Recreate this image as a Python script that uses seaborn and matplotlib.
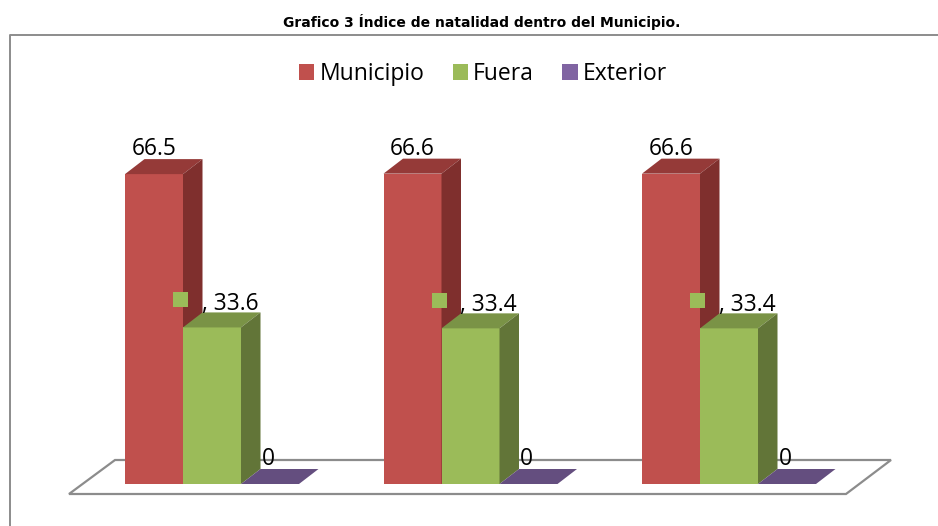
import matplotlib
matplotlib.use("Agg")
import matplotlib.pyplot as plt
import pandas as pd
import seaborn as sns
from matplotlib.lines import Line2D
from matplotlib.patches import Polygon, Rectangle

# values
groups = ["A", "B", "C"]
municipio = [66.5, 66.6, 66.6]
fuera = [33.6, 33.4, 33.4]
exterior = [0, 0, 0]
series = ["Municipio", "Fuera", "Exterior"]
front_colors = ["#C0504D", "#9BBB59", "#8064A2"]
top_colors = ["#953A38", "#7A9346", "#644E7F"]
side_colors = ["#7F2F2D", "#627538", "#54426B"]
title = "Grafico 3 Índice de natalidad dentro del Municipio."

W, H = 938, 526
x_first, x_step = 212.0, 258.5
y_base, y_scale = 484.0, 4.66
depth_x, depth_y = 19.5 / x_step, 15 / y_scale

df = pd.DataFrame({
    "group": groups * 3,
    "serie": [s for s in series for _ in groups],
    "valor": municipio + fuera + exterior,
})

sns.set_theme(style="white")
plt.rcParams["font.family"] = ["Open Sans", "DejaVu Sans"]

fig = plt.figure(figsize=(W / 100, H / 100), dpi=100)
ax = fig.add_axes([0, 0, 1, 1])
sns.barplot(data=df, x="group", y="valor", hue="serie", hue_order=series,
            palette=dict(zip(series, front_colors)), width=174 / x_step,
            gap=0, saturation=1, errorbar=None, linewidth=0, ax=ax)
ax.set_xlim(-x_first / x_step, (W - x_first) / x_step)
ax.set_ylim(-(H - y_base) / y_scale, y_base / y_scale)
ax.set_axis_off()


def px(x, y):
    return (x - x_first) / x_step, (y_base - y) / y_scale


# floor of the 3d chart
floor = [px(69, 494), px(846, 494), px(891, 460), px(115, 460)]
ax.add_patch(Polygon(floor, closed=True, facecolor="white", edgecolor="#8C8C8C",
                     linewidth=1.6, zorder=1))

for i, bars in enumerate(ax.containers):
    for bar in bars:
        bar.set_zorder(3 + i)
        x0, x1 = bar.get_x(), bar.get_x() + bar.get_width()
        top = bar.get_height()
        ax.add_patch(Polygon([(x0, top), (x1, top), (x1 + depth_x, top + depth_y),
                              (x0 + depth_x, top + depth_y)],
                             facecolor=top_colors[i], linewidth=0, zorder=3 + i))
        if top > 0:
            ax.add_patch(Polygon([(x1, 0), (x1 + depth_x, depth_y),
                                  (x1 + depth_x, top + depth_y), (x1, top)],
                                 facecolor=side_colors[i], linewidth=0, zorder=3 + i))
        xc = (x0 + x1) / 2
        if i == 0:
            txt, dx, dy = f"{top:g}", 0, 19
        elif i == 1:
            txt, dx, dy = f", {top:g}", 18, 17
            # stray legend key that sits beside the label
            ax.add_patch(Rectangle((x0 - 10 / x_step, top + 20 / y_scale),
                                   15 / x_step, 15 / y_scale,
                                   facecolor=front_colors[1], linewidth=0, zorder=8))
        else:
            txt, dx, dy = f"{top:g}", -2, 19
        ax.annotate(txt, (xc, top), xytext=(dx, dy), textcoords="offset pixels",
                    ha="center", va="baseline", fontsize=16.4, color="black", zorder=9)

sns.move_legend(ax, "center", bbox_to_anchor=(483 / W, 1 - 74 / H), ncols=3, title=None,
                frameon=False, fontsize=16.5, handlelength=0.66, handleheight=0.66,
                columnspacing=1.25, handletextpad=0.22, labelcolor="black",
                bbox_transform=fig.transFigure)

# chart frame, runs off the right side of the image
fig.add_artist(Line2D([10 / W, 10 / W, 1], [0, 1 - 34.5 / H, 1 - 34.5 / H],
                      color="#8C8C8C", linewidth=1.4))
fig.text(481.5 / W, 1 - 22 / H, title, ha="center", va="center", family="DejaVu Sans",
         fontsize=10, fontweight="bold", color="black")

fig.savefig("out.png", dpi=100)
